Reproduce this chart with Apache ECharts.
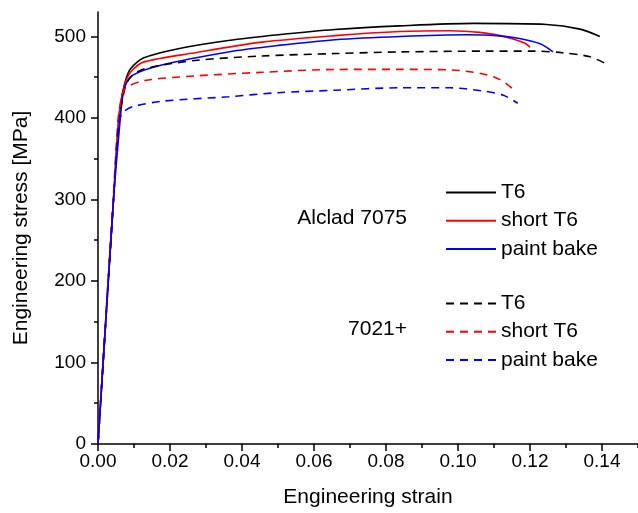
<!DOCTYPE html>
<html>
<head>
<meta charset="utf-8">
<script src="https://cdn.jsdelivr.net/npm/echarts@6/dist/echarts.min.js"></script>
<style>
html,body{margin:0;padding:0;background:#fff;}
#chart{width:638px;height:513px;}
</style>
</head>
<body>
<div id="chart"></div>
<script>
// Engineering strain / stress [MPa] pairs
const alcladT6 = [[0,0],[0.0043,300],[0.0058,400],[0.0068,430],[0.0078,448],[0.0090,460],[0.0126,473.5],[0.0223,485],[0.0362,495],[0.0501,502],[0.0658,508.5],[0.0839,513],[0.1043,516],[0.1246,514.7],[0.1339,509],[0.1394,500]];
const alcladShortT6 = [[0,0],[0.0043,300],[0.0058,400],[0.0068,430],[0.0078,446],[0.0092,457],[0.0126,468.5],[0.0269,480],[0.0455,493],[0.0658,501],[0.0839,506],[0.0978,507],[0.106,505],[0.1117,501],[0.1153,497],[0.1185,492],[0.12,487]];
const alcladPaintBake = [[0,0],[0.0043,300],[0.0062,400],[0.0068,425],[0.0076,440],[0.0094,452],[0.0177,465],[0.0362,481],[0.0501,489],[0.0658,496],[0.0839,500],[0.1024,502],[0.1106,501],[0.1163,498],[0.1228,491],[0.1264,481]];
const a7021T6 = [[0,0],[0.0043,300],[0.0059,400],[0.0069,425],[0.0079,442],[0.0095,452],[0.013,460.5],[0.0269,470.5],[0.0455,476],[0.0658,479],[0.0839,481],[0.108,482],[0.121,482],[0.129,480],[0.1367,475],[0.1413,466]];
const a7021ShortT6 = [[0,0],[0.0042,300],[0.0056,400],[0.0063,420],[0.0070,432],[0.0080,438],[0.013,446],[0.0269,451.5],[0.0455,456],[0.0658,459.5],[0.0839,459.6],[0.0978,459],[0.107,454],[0.1117,447],[0.1154,435]];
const a7021PaintBake = [[0,0],[0.0043,300],[0.0056,390],[0.0063,402],[0.0072,408],[0.0098,414],[0.0177,420.5],[0.0362,426],[0.0501,431],[0.0658,434],[0.0839,437],[0.0978,437],[0.107,433],[0.1126,428],[0.1166,418]];

const xMajorTicks = [0,0.02,0.04,0.06,0.08,0.10,0.12,0.14];
const xMinorTicks = [0.01,0.03,0.05,0.07,0.09,0.11,0.13,0.15];
const yMajorTicks = [0,100,200,300,400,500];
const yMinorTicks = [50,150,250,350,450];

const groupLabels = ['Alclad 7075','7021+'];
const treatmentNames = ['T6','short T6','paint bake'];
const colors = ['#000000','#ff0000','#0000ff'];

const FONT = 'Liberation Sans, Arial, sans-serif';
const chart = echarts.init(document.getElementById('chart'));

const sets = [
  {group: groupLabels[0], data: [alcladT6, alcladShortT6, alcladPaintBake], dash: 'solid'},
  {group: groupLabels[1], data: [a7021T6, a7021ShortT6, a7021PaintBake], dash: [8,6]}
];
const series = [];
sets.forEach(s => {
  s.data.forEach((d, i) => {
    series.push({
      name: s.group + ' ' + treatmentNames[i],
      type: 'line',
      data: d,
      xAxisIndex: 0, yAxisIndex: 0,
      showSymbol: false, symbol: 'none',
      smooth: 0.3,
      color: colors[i],
      itemStyle: {color: colors[i]},
      lineStyle: {color: colors[i], width: 1.6, type: s.dash},
      animation: false
    });
  });
});

const axisLine = {show: true, onZero: false, lineStyle: {color: '#000', width: 1.5}};
const option = {
  backgroundColor: '#fff',
  animation: false,
  grid: {left: 98, right: 0, top: 12, bottom: 68, containLabel: false},
  xAxis: [{
    type: 'value', min: 0, max: 0.15,
    name: 'Engineering strain', nameLocation: 'middle', nameGap: 43,
    nameTextStyle: {fontFamily: FONT, fontSize: 21, color: '#000'},
    axisLine: axisLine,
    axisTick: {show: true, inside: false, length: 7, customValues: xMajorTicks, lineStyle: {color: '#000', width: 1.5}},
    axisLabel: {customValues: xMajorTicks, formatter: v => v.toFixed(2), margin: 8, fontFamily: FONT, fontSize: 19, color: '#000'},
    splitLine: {show: false}
  }, {
    type: 'value', min: 0, max: 0.15, position: 'bottom',
    axisLine: {show: false},
    axisTick: {show: true, length: 4, customValues: xMinorTicks, lineStyle: {color: '#000', width: 1.5}},
    axisLabel: {show: false},
    splitLine: {show: false}
  }],
  yAxis: [{
    type: 'value', min: 0, max: 530,
    name: 'Engineering stress [MPa]', nameLocation: 'middle', nameGap: 66, nameRotate: 90,
    nameTextStyle: {fontFamily: FONT, fontSize: 21, color: '#000'},
    axisLine: axisLine,
    axisTick: {show: true, length: 7, customValues: yMajorTicks, lineStyle: {color: '#000', width: 1.5}},
    axisLabel: {customValues: yMajorTicks, margin: 12, fontFamily: FONT, fontSize: 19, color: '#000'},
    splitLine: {show: false}
  }, {
    type: 'value', min: 0, max: 530, position: 'left',
    axisLine: {show: false},
    axisTick: {show: true, length: 4, customValues: yMinorTicks, lineStyle: {color: '#000', width: 1.5}},
    axisLabel: {show: false},
    splitLine: {show: false}
  }],
  legend: [0, 1].map(gi => ({
    show: true,
    orient: 'vertical',
    left: 445, top: gi === 0 ? 182 : 293,
    padding: 0,
    itemWidth: 50, itemHeight: 14, itemGap: 7.2,
    selectedMode: false,
    itemStyle: {opacity: 0},
    data: treatmentNames.map(t => sets[gi].group + ' ' + t),
    formatter: function (name) { return name.slice(sets[gi].group.length + 1); },
    textStyle: {fontFamily: FONT, fontSize: 21, color: '#000'}
  })),
  graphic: [
    {type: 'text', right: 638 - 407, top: 208, style: {text: groupLabels[0], font: '21px ' + FONT, fill: '#000'}},
    {type: 'text', right: 638 - 407, top: 319, style: {text: groupLabels[1], font: '21px ' + FONT, fill: '#000'}}
  ],
  series: series
};
chart.setOption(option);
</script>
</body>
</html>
